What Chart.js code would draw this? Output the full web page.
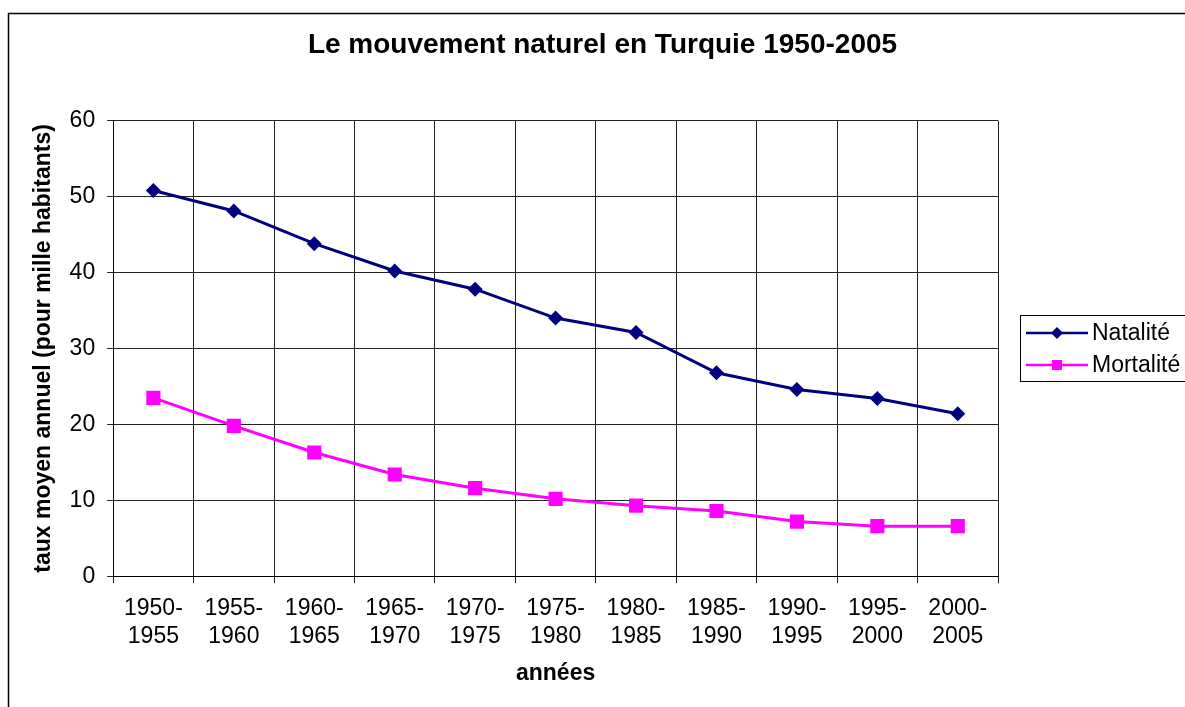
<!DOCTYPE html>
<html>
<head>
<meta charset="utf-8">
<script src="https://cdn.jsdelivr.net/npm/chart.js@4/dist/chart.umd.min.js"></script>
<style>
  html, body { margin: 0; padding: 0; background: #fff; }
  #wrap { width: 1185px; height: 707px; }
</style>
</head>
<body>
<div id="wrap"><canvas id="chart" width="1185" height="707"></canvas></div>
<script>
// periods (x categories)
const periods = ['1950-1955', '1955-1960', '1960-1965', '1965-1970', '1970-1975', '1975-1980',
                 '1980-1985', '1985-1990', '1990-1995', '1995-2000', '2000-2005'];
// birth rate, per thousand
const natalite = [50.8, 48.1, 43.8, 40.2, 37.8, 34.0, 32.1, 26.8, 24.6, 23.4, 21.4];
// death rate, per thousand
const mortalite = [23.5, 19.8, 16.3, 13.4, 11.6, 10.2, 9.3, 8.6, 7.2, 6.6, 6.6];

const FONT = 'Arial, "Liberation Sans", sans-serif';

// outer frame + legend box drawn by hand (Excel style)
const excelFrame = {
    id: 'excelFrame',
    beforeDraw(chart) {
        const ctx = chart.ctx;
        ctx.save();
        ctx.fillStyle = '#fff';
        ctx.fillRect(0, 0, chart.width, chart.height);
        ctx.strokeStyle = '#000';
        ctx.lineWidth = 1.5;
        ctx.strokeRect(8.5, 13.5, 1200, 720);
        ctx.restore();
    },
    afterDraw(chart) {
        const ctx = chart.ctx;
        ctx.save();
        ctx.strokeStyle = '#000';
        ctx.lineWidth = 1;
        ctx.strokeRect(1020.5, 315.5, 200, 66);
        chart.data.datasets.forEach((ds, i) => {
            const y = 333 + i * 32;
            ctx.strokeStyle = ds.borderColor;
            ctx.lineWidth = 2.5;
            ctx.beginPath();
            ctx.moveTo(1026, y);
            ctx.lineTo(1088, y);
            ctx.stroke();
            ctx.fillStyle = ds.borderColor;
            ctx.beginPath();
            if (ds.pointStyle === 'rectRot') {
                ctx.moveTo(1057 - 6, y);
                ctx.lineTo(1057, y - 6);
                ctx.lineTo(1057 + 6, y);
                ctx.lineTo(1057, y + 6);
            } else {
                ctx.rect(1052, y - 5, 10, 10);
            }
            ctx.closePath();
            ctx.fill();
            ctx.fillStyle = '#000';
            ctx.font = '23px ' + FONT;
            ctx.textAlign = 'left';
            ctx.textBaseline = 'middle';
            ctx.fillText(ds.label, 1092, y + 1);
        });
        ctx.restore();
    }
};

const ctx = document.getElementById('chart').getContext('2d');
const chart = new Chart(ctx, {
    type: 'line',
    data: {
        labels: periods,
        datasets: [{
            label: 'Natalité',
            data: natalite,
            borderColor: '#000080',
            backgroundColor: '#000080',
            borderWidth: 3,
            pointStyle: 'rectRot',
            pointRadius: 7.5,
            pointBorderWidth: 0,
            tension: 0
        }, {
            label: 'Mortalité',
            data: mortalite,
            borderColor: '#ff00ff',
            backgroundColor: '#ff00ff',
            borderWidth: 3,
            pointStyle: 'rect',
            pointRadius: 10,
            pointBorderWidth: 0,
            tension: 0
        }]
    },
    options: {
        responsive: false,
        animation: false,
        layout: { padding: { left: 20, right: 0, top: 13, bottom: 10 } },
        plugins: {
            legend: { display: false },
            tooltip: { enabled: false },
            title: {
                display: true,
                text: 'Le mouvement naturel en Turquie 1950-2005',
                color: '#000',
                font: { family: FONT, size: 28, weight: 'bold' },
                padding: { top: 15, bottom: 59 }
            }
        },
        scales: {
            x: {
                offset: true,
                grid: { offset: true, color: '#222', lineWidth: 1, tickLength: 7, tickColor: '#222' },
                border: { color: '#000', width: 1 },
                ticks: {
                    color: '#000',
                    font: { family: FONT, size: 23, lineHeight: 1.22 },
                    padding: 11,
                    maxRotation: 0,
                    autoSkip: false,
                    callback: function(value) {
                        const p = periods[value];
                        return [p.slice(0, 5), p.slice(5)];
                    }
                },
                title: {
                    display: true,
                    text: 'années',
                    color: '#000',
                    font: { family: FONT, size: 23, weight: 'bold' },
                    padding: { top: -2, bottom: 10 }
                }
            },
            y: {
                min: 0,
                max: 60,
                grid: { color: '#222', lineWidth: 1, tickLength: 6, tickColor: '#222' },
                border: { color: '#000', width: 1 },
                ticks: {
                    stepSize: 10,
                    color: '#000',
                    font: { family: FONT, size: 23 },
                    padding: 12
                },
                title: {
                    display: true,
                    text: 'taux moyen annuel (pour mille habitants)',
                    color: '#000',
                    font: { family: FONT, size: 23, weight: 'bold' },
                    padding: { top: 10, bottom: 0 }
                }
            },
            // empty right-hand axis that reserves room for the legend
            legendSpace: {
                position: 'right',
                display: true,
                grid: { display: false },
                border: { display: false },
                ticks: { display: false },
                afterFit: function(scale) { scale.width = 187; }
            }
        }
    },
    plugins: [excelFrame]
});
</script>
</body>
</html>
